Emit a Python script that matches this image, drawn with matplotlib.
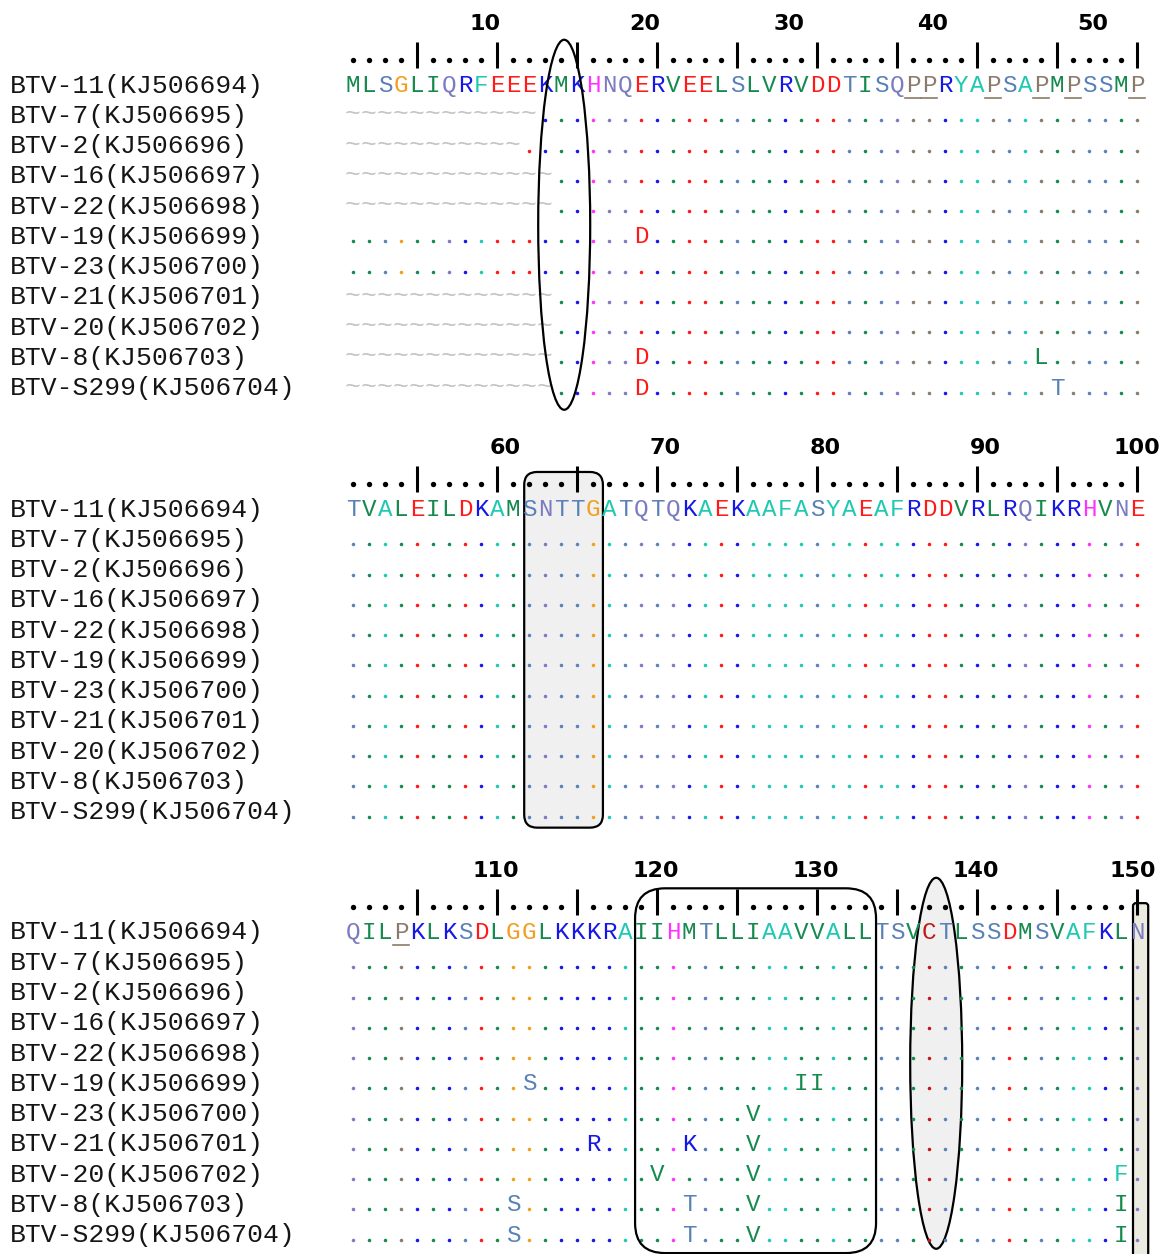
"""Protein alignment of BTV segment sequences, three blocks of 50 residues."""

import matplotlib
matplotlib.use("Agg")
import matplotlib.pyplot as plt
from matplotlib.patches import Ellipse, FancyBboxPatch


names = [
    "BTV-11(KJ506694)",
    "BTV-7(KJ506695)",
    "BTV-2(KJ506696)",
    "BTV-16(KJ506697)",
    "BTV-22(KJ506698)",
    "BTV-19(KJ506699)",
    "BTV-23(KJ506700)",
    "BTV-21(KJ506701)",
    "BTV-20(KJ506702)",
    "BTV-8(KJ506703)",
    "BTV-S299(KJ506704)",
]

# reference sequence (first row), the others are shown relative to it
ref_seq = (
    "MLSGLIQRFEEEKMKHNQERVEELSLVRVDDTISQPPRYAPSAPMPSSMP"
    "TVALEILDKAMSNTTGATQTQKAEKAAFASYAEAFRDDVRLRQIKRHVNE"
    "QILPKLKSDLGGLKKKRAIIHMTLLIAAVVALLTSVCTLSSDMSVAFKLN"
)

# number of missing N-terminal residues per row
lead_gaps = [0, 12, 11, 13, 13, 0, 0, 13, 13, 13, 13]

# substitutions: row -> {position: residue}
subs = {
    5: {19: "D", 112: "S", 129: "I", 130: "I"},
    6: {126: "V"},
    7: {116: "R", 122: "K", 126: "V"},
    8: {120: "V", 126: "V", 149: "F"},
    9: {19: "D", 44: "L", 111: "S", 122: "T", 126: "V", 149: "I"},
    10: {19: "D", 45: "T", 111: "S", 122: "T", 126: "V", 149: "I"},
}

ruler_labels = [
    [10, 20, 30, 40, 50],
    [60, 70, 80, 90, 100],
    [110, 120, 130, 140, 150],
]
# column (within block) where each ruler number is centred
ruler_label_cols = [
    [9.25, 19.25, 28.25, 37.25, 47.25],
    [10.5, 20.5, 30.5, 40.5, 50.0],
    [9.9, 19.9, 29.9, 39.9, 49.75],
]

aa_colors = {}
for aa in "MLIV":
    aa_colors[aa] = "#16894f"
for aa in "ST":
    aa_colors[aa] = "#5a82b8"
for aa in "NQ":
    aa_colors[aa] = "#7b7bc2"
for aa in "RK":
    aa_colors[aa] = "#1616e6"
for aa in "ED":
    aa_colors[aa] = "#ff1a1a"
for aa in "FYA":
    aa_colors[aa] = "#22c9b2"
aa_colors["G"] = "#f0a01e"
aa_colors["H"] = "#ff33ff"
aa_colors["P"] = "#8a7b6c"
aa_colors["C"] = "#c01818"

# layout (pixels)
W, H = 1165, 1254
x0 = 353
cw = 16
name_x = 10
block_y = [84, 508, 931]
rh = 30.27
block_len = 50
mono = "Liberation Mono"


def cx(c):
    return x0 + (c - 1) * cw


def ry(b, r):
    return block_y[b] + r * rh


fig = plt.figure(figsize=(W / 100, H / 100), dpi=100)
ax = fig.add_axes([0, 0, 1, 1])
ax.set_xlim(0, W)
ax.set_ylim(H, 0)
ax.axis("off")

for b in range(3):
    # ruler
    top = ry(b, 0)
    for c in range(1, block_len + 1):
        if c % 5 == 0:
            ax.plot([cx(c), cx(c)], [top - 42, top - 16], color="black",
                    lw=2.2, solid_capstyle="butt", zorder=4)
        else:
            ax.scatter([cx(c)], [top - 24], s=15, color="black", lw=0, zorder=4)
    for lab, lc in zip(ruler_labels[b], ruler_label_cols[b]):
        ax.text(cx(lc), top - 60, str(lab), ha="center", va="center",
                fontsize=16, fontweight="bold", family="DejaVu Sans", zorder=4)

    for r, name in enumerate(names):
        y = ry(b, r)
        ax.text(name_x, y + 8.5, name, ha="left", va="baseline",
                fontsize=19, family=mono, color="#151515")
        for c in range(1, block_len + 1):
            pos = b * block_len + c
            ref_aa = ref_seq[pos - 1]
            if r == 0:
                ax.text(cx(c), y + 8, ref_aa, ha="center", va="baseline",
                        fontsize=17.5, family=mono, color=aa_colors[ref_aa], zorder=3)
                if ref_aa == "P":
                    ax.plot([cx(c) - 8, cx(c) + 8], [y + 14, y + 14],
                            color=aa_colors["P"], lw=1.2, zorder=3)
            elif pos <= lead_gaps[r]:
                ax.text(cx(c), y + 7, "~", ha="center", va="baseline",
                        fontsize=19, family=mono, color="#c4c4c4", zorder=3)
            elif pos in subs.get(r, {}):
                aa = subs[r][pos]
                ax.text(cx(c), y + 8, aa, ha="center", va="baseline",
                        fontsize=17.5, family=mono, color=aa_colors[aa], zorder=3)
            else:
                ax.scatter([cx(c)], [y + 6], s=6.5, color=aa_colors[ref_aa],
                           lw=0, zorder=3)

# highlighted regions
ax.add_patch(Ellipse((cx(14.2), ry(0, 4.65)), 52, 370, fill=False,
                     ec="black", lw=1.6, zorder=5))
ax.add_patch(FancyBboxPatch((cx(11.7), ry(1, -1.19)), 4.92 * cw, 11.75 * rh,
                            boxstyle="round,pad=0,rounding_size=13",
                            fc="#f0f0f0", ec="black", lw=1.6, zorder=1))
ax.add_patch(FancyBboxPatch((cx(18.63), ry(2, -1.41)), 15.06 * cw, 12.05 * rh,
                            boxstyle="round,pad=0,rounding_size=30",
                            fill=False, ec="black", lw=1.6, zorder=5))
ax.add_patch(Ellipse((cx(37.45), ry(2, 4.37)), 52, 371,
                     fc="#f0f0f0", ec="black", lw=1.6, zorder=1))
ax.add_patch(FancyBboxPatch((cx(49.75), ry(2, -0.92)), 0.95 * cw, 14 * rh,
                            boxstyle="round,pad=0,rounding_size=3",
                            fc="#ecebdf", ec="black", lw=1.6, zorder=1))

fig.savefig("out.png", dpi=100)
